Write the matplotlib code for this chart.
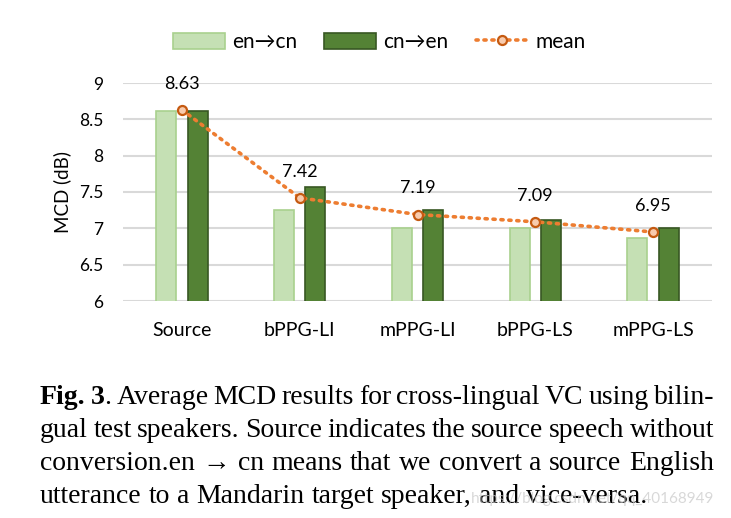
import matplotlib
matplotlib.use("Agg")
import matplotlib.pyplot as plt
import numpy as np
from matplotlib.patches import Patch
from matplotlib.lines import Line2D

# === DATA ===
categories = ["Source", "bPPG-LI", "mPPG-LI", "bPPG-LS", "mPPG-LS"]
en_cn = [8.62, 7.25, 7.01, 7.01, 6.87]
cn_en = [8.62, 7.57, 7.25, 7.12, 7.01]
mean_vals = [8.63, 7.42, 7.19, 7.09, 6.95]
yticks = [6, 6.5, 7, 7.5, 8, 8.5, 9]

caption_lines = [
    [[("Fig.", "bold")], [("3", "bold"), (".", "normal")], [("Average", "normal")],
     [("MCD", "normal")], [("results", "normal")], [("for", "normal")],
     [("cross-lingual", "normal")], [("VC", "normal")], [("using", "normal")],
     [("bilin-", "normal")]],
    "gual test speakers.  Source indicates the source speech without",
    "conversion.en \u2192 cn means that we convert a source English",
    "utterance to a Mandarin target speaker, and vice-versa.",
]

# === STYLE ===
LIGHT = "#C5E0B4"
LIGHT_EDGE = "#A9D18E"
DARK = "#548235"
DARK_EDGE = "#385723"
ORANGE = "#ED7D31"
SANS = ["Lato", "DejaVu Sans"]
SERIF = ["Liberation Serif", "DejaVu Serif"]

plt.rcParams["font.family"] = SANS

W, H = 731, 518
fig = plt.figure(figsize=(W / 100, H / 100), dpi=100)
ax = fig.add_axes([123 / W, 1 - 301 / H, (712 - 123) / W, (301 - 83) / H])

x = np.arange(len(categories))
bw = 0.17
off = 0.133
ax.bar(x - off, en_cn, bw, color=LIGHT, edgecolor=LIGHT_EDGE, linewidth=1.2, zorder=3)
ax.bar(x + off, cn_en, bw, color=DARK, edgecolor=DARK_EDGE, linewidth=1.2, zorder=3)
ax.plot(x, mean_vals, linestyle=(0, (0.6, 1.6)), color=ORANGE, linewidth=2.6,
        dash_capstyle="round", marker="o", markersize=6.5,
        markerfacecolor="#F8CBAD", markeredgecolor="#C55A11", markeredgewidth=1.6,
        zorder=4)
for xi, m in zip(x, mean_vals):
    ax.text(xi, m + 0.36, f"{m:.2f}", ha="center", va="center", fontsize=13,
            color="black", zorder=5)

ax.set_xlim(-0.5, len(categories) - 0.5)
ax.set_ylim(6, 9)
ax.set_yticks(yticks)
ax.set_yticklabels([f"{t:g}" for t in yticks], fontsize=12.5)
ax.set_xticks(x)
ax.set_xticklabels(categories, fontsize=14)
ax.tick_params(axis="both", length=0)
ax.tick_params(axis="y", pad=14)
ax.tick_params(axis="x", pad=15)
ax.grid(axis="y", color="#D9D9D9", linewidth=1.5, zorder=0)
ax.set_axisbelow(True)
for s in ax.spines.values():
    s.set_visible(False)
ax.set_ylabel("MCD (dB)", fontsize=13.5)
ax.yaxis.set_label_coords(-0.088, 0.5)

handles = [
    Patch(facecolor=LIGHT, edgecolor=LIGHT_EDGE, linewidth=1.2),
    Patch(facecolor=DARK, edgecolor=DARK_EDGE, linewidth=1.2),
    Line2D([0], [0], linestyle=(0, (0.6, 1.6)), color=ORANGE, linewidth=2.6,
           dash_capstyle="round", marker="o", markersize=6.5,
           markerfacecolor="#F8CBAD", markeredgecolor="#C55A11", markeredgewidth=1.6),
]
fig.legend(handles, ["en\u2192cn", "cn\u2192en", "mean"], loc="center",
           bbox_to_anchor=(379 / W, 1 - 42 / H), ncol=3, frameon=False,
           fontsize=15, handlelength=2.5, handleheight=0.8, columnspacing=1.3,
           handletextpad=0.35)

# === CAPTION (justified) ===
renderer = fig.canvas.get_renderer()
left_px, right_px = 40, 714
baselines = [404, 437, 470, 503]
cap_size = 20


def measure(s, weight):
    t = fig.text(0, 0, s, fontsize=cap_size, family=SERIF, weight=weight)
    w = t.get_window_extent(renderer).width
    t.remove()
    return w


for i, line in enumerate(caption_lines):
    if isinstance(line, str):
        words = [[(w_, "normal")] for w_ in line.split()]
    else:
        words = line
    widths = [sum(measure(s, wt) for s, wt in word) for word in words]
    justify = i < len(caption_lines) - 1
    gap = (right_px - left_px - sum(widths)) / (len(words) - 1) if justify \
        else measure(" ", "normal") * 1.0
    xp = left_px
    yf = 1 - baselines[i] / H
    for word, wd in zip(words, widths):
        xs = xp
        for s, wt in word:
            fig.text(xs / W, yf, s, fontsize=cap_size, family=SERIF, weight=wt,
                     ha="left", va="baseline")
            xs += measure(s, wt)
        xp += wd + gap

fig.text(714 / W, 1 - 499 / H, "https://blog.csdn.net/qq_40168949", fontsize=11,
         color="#C8C8C8", alpha=0.7, ha="right", va="center")

fig.savefig("out.png", dpi=100)
